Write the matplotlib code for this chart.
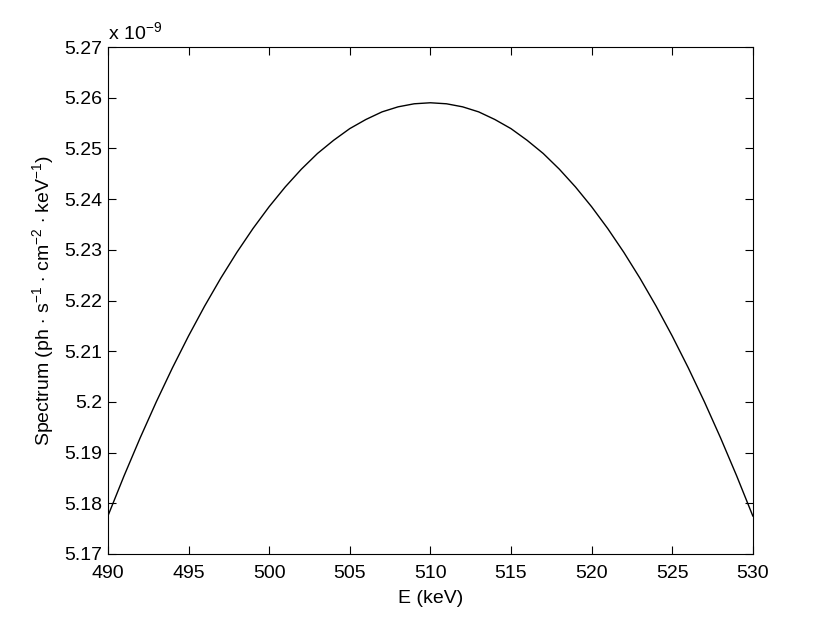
import matplotlib
matplotlib.use('Agg')
import matplotlib.pyplot as plt
from matplotlib.ticker import FuncFormatter

plt.rcParams['font.family'] = ['Liberation Sans', 'DejaVu Sans']
plt.rcParams['mathtext.fontset'] = 'custom'
plt.rcParams['mathtext.rm'] = 'Liberation Sans'
plt.rcParams['mathtext.it'] = 'Liberation Sans'

# energy (keV) and spectrum (x 1e-9 ph/s/cm2/keV)
energy = list(range(490, 531))
spectrum = [5.1775, 5.1854, 5.1929, 5.2000, 5.2067, 5.2130, 5.2189, 5.2244, 5.2295, 5.2342,
            5.2385, 5.2424, 5.2459, 5.2490, 5.2516, 5.2539, 5.2557, 5.2572, 5.2582, 5.2588,
            5.2590,
            5.2588, 5.2582, 5.2572, 5.2557, 5.2539, 5.2516, 5.2490, 5.2459, 5.2424, 5.2385,
            5.2342, 5.2295, 5.2244, 5.2189, 5.2130, 5.2067, 5.2000, 5.1929, 5.1854, 5.1775]

xticks = [490, 495, 500, 505, 510, 515, 520, 525, 530]
yticks = [5.17, 5.18, 5.19, 5.2, 5.21, 5.22, 5.23, 5.24, 5.25, 5.26, 5.27]

fig = plt.figure(figsize=(8.3, 6.25), dpi=100)
ax = fig.add_axes([0.130, 0.1136, 0.777, 0.8112])
ax.plot(energy, spectrum, color='black', linewidth=1.0)

ax.set_xlim(490, 530)
ax.set_ylim(5.17, 5.27)
ax.set_xticks(xticks)
ax.set_yticks(yticks)
ax.yaxis.set_major_formatter(FuncFormatter(lambda v, p: '%g' % round(v, 3)))
ax.tick_params(direction='in', top=True, right=True, labelsize=14, length=6, width=0.8)
ax.tick_params(axis='x', pad=8)
ax.tick_params(axis='y', pad=4)
for s in ax.spines.values():
    s.set_linewidth(0.8)

ax.set_xlabel('E (keV)', fontsize=14, labelpad=6)
ax.set_ylabel(r'Spectrum (ph $\cdot$ s$^{-1}$ $\cdot$ cm$^{-2}$ $\cdot$ keV$^{-1}$)', fontsize=14, labelpad=6)
ax.text(0.0, 1.008, r'x 10$^{-9}$', transform=ax.transAxes, fontsize=14, ha='left', va='bottom')

fig.savefig('out.png', dpi=100)
